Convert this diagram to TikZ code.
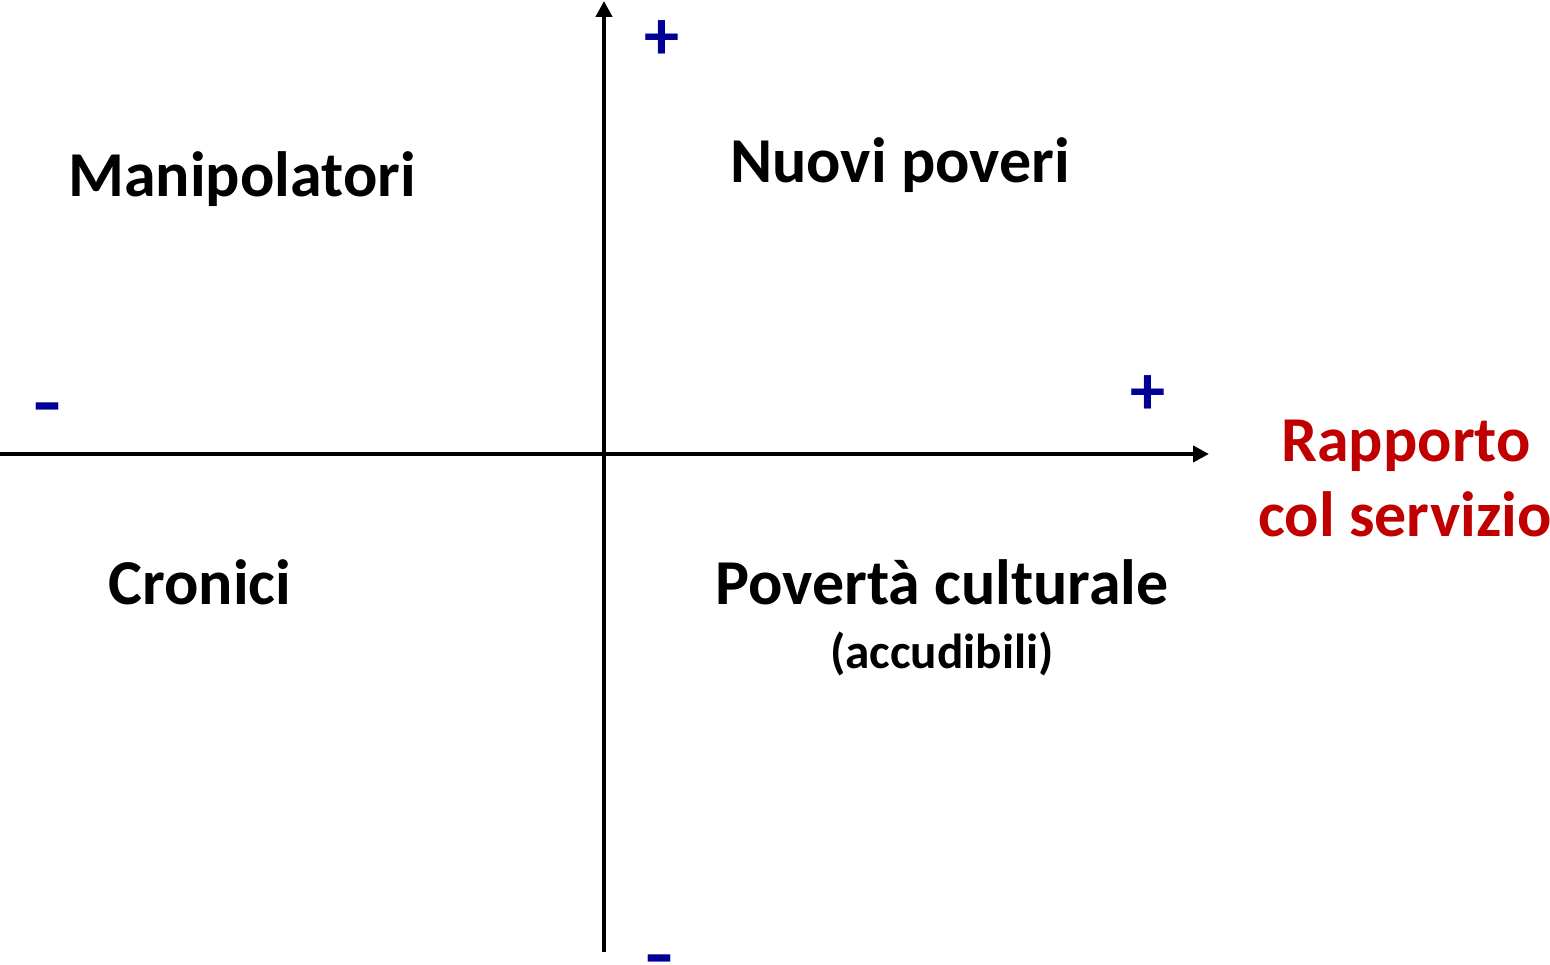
\documentclass[tikz,border=0pt]{standalone}
\usepackage{fontspec}
\setmainfont{Carlito}
\usetikzlibrary{arrows.meta}
\definecolor{segno}{RGB}{0,0,150}
\definecolor{rosso}{RGB}{192,0,0}
\tikzset{
  asse/.style={line width=0.4mm, -{Triangle[length=1.6mm,width=1.6mm]}},
  gruppo/.style={anchor=base, font=\fontsize{18.2}{22}\selectfont\bfseries},
  segnopm/.style={text=segno, font=\fontsize{20}{22}\selectfont\bfseries, inner sep=0pt},
  meno/.style={segnopm, xscale=1.3, transform shape},
}
\begin{document}
\begin{tikzpicture}
                \useasboundingbox (0, 0) rectangle (15.5, 9.65);
                \coordinate (xl) at (0, 5.11);
                \coordinate (xr) at (12.09, 5.11);
                \coordinate (yb) at (6.04, 0.13);
                \coordinate (yt) at (6.04, 9.64);
                \draw[asse] (xl) -- (xr);
                \draw[asse] (yb) -- (yt);
                % segni sugli assi
                \node[segnopm] (pt) at (6.62, 9.25) {+};
                \node[segnopm] (pr) at (11.48, 5.70) {+};
                \node[meno] (ml) at (0.47, 5.50) {-};
                \node[meno] (mb) at (6.59, -0.02) {-};
                % quadranti
                \node[gruppo] (manip) at (2.42, 7.68) {Manipolatori};
                \node[gruppo] (nuovi) at (9.00, 7.82) {Nuovi poveri};
                \node[gruppo] (cron) at (2.00, 3.60) {Cronici};
                \node[gruppo] (pov) at (9.42, 3.60) {Povertà culturale};
                \node[anchor=base, font=\fontsize{14}{16}\selectfont\bfseries] (accud) at (9.42, 2.96) {(accudibili)};
                % asse orizzontale
                \node[gruppo, text=rosso] (rapp) at (14.06, 5.03) {Rapporto};
                \node[gruppo, text=rosso] (col) at (14.05, 4.28) {col servizio};
\end{tikzpicture}
\end{document}
